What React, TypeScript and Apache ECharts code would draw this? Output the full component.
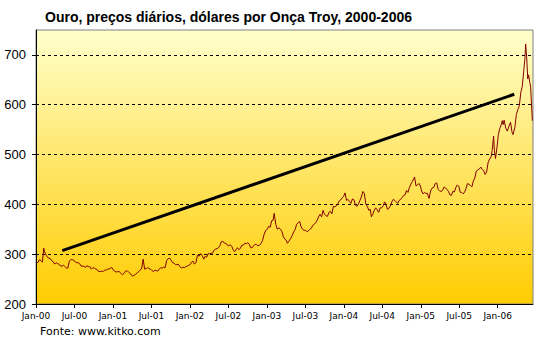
import React, { useEffect, useRef } from "react";
import * as echarts from "echarts";

const TITLE = "Ouro, preços diários, dólares por Onça Troy, 2000-2006";
const SOURCE = "Fonte: www.kitko.com";

const MONTH_NAMES = ["Jan", "Jul"];

const priceDates: string[] = [
  "2000-01-04","2000-01-11","2000-01-18","2000-01-25","2000-02-01","2000-02-07","2000-02-10","2000-02-15","2000-02-22","2000-03-01","2000-03-08","2000-03-15","2000-03-22","2000-03-29","2000-04-05","2000-04-12","2000-04-19","2000-04-26","2000-05-03","2000-05-10","2000-05-17","2000-05-24","2000-05-31","2000-06-07","2000-06-14","2000-06-21","2000-06-28","2000-07-05","2000-07-12","2000-07-19","2000-07-26","2000-08-02","2000-08-09","2000-08-16","2000-08-23","2000-08-30","2000-09-06","2000-09-13","2000-09-20","2000-09-27","2000-10-04","2000-10-11","2000-10-18","2000-10-25","2000-11-01","2000-11-08","2000-11-15","2000-11-22","2000-11-29","2000-12-06","2000-12-13","2000-12-20","2000-12-27",
  "2001-01-03","2001-01-10","2001-01-17","2001-01-24","2001-01-31","2001-02-07","2001-02-14","2001-02-21","2001-02-28","2001-03-07","2001-03-14","2001-03-21","2001-03-28","2001-04-04","2001-04-11","2001-04-18","2001-04-25","2001-05-02","2001-05-09","2001-05-16","2001-05-23","2001-05-30","2001-06-06","2001-06-13","2001-06-20","2001-06-27","2001-07-04","2001-07-11","2001-07-18","2001-07-25","2001-08-01","2001-08-08","2001-08-15","2001-08-22","2001-08-29","2001-09-05","2001-09-12","2001-09-19","2001-09-26","2001-10-03","2001-10-10","2001-10-17","2001-10-24","2001-10-31","2001-11-07","2001-11-14","2001-11-21","2001-11-28","2001-12-05","2001-12-12","2001-12-19","2001-12-27",
  "2002-01-02","2002-01-09","2002-01-16","2002-01-23","2002-01-30","2002-02-06","2002-02-13","2002-02-20","2002-02-27","2002-03-06","2002-03-13","2002-03-20","2002-03-27","2002-04-03","2002-04-10","2002-04-17","2002-04-24","2002-05-01","2002-05-08","2002-05-15","2002-05-22","2002-05-29","2002-06-05","2002-06-12","2002-06-19","2002-06-26","2002-07-03","2002-07-10","2002-07-17","2002-07-24","2002-07-31","2002-08-07","2002-08-14","2002-08-21","2002-08-28","2002-09-04","2002-09-11","2002-09-18","2002-09-25","2002-10-02","2002-10-09","2002-10-16","2002-10-23","2002-10-30","2002-11-06","2002-11-13","2002-11-20","2002-11-27","2002-12-04","2002-12-11","2002-12-18","2002-12-27",
  "2003-01-03","2003-01-10","2003-01-17","2003-01-24","2003-01-31","2003-02-05","2003-02-12","2003-02-19","2003-02-26","2003-03-05","2003-03-12","2003-03-19","2003-03-26","2003-04-02","2003-04-07","2003-04-14","2003-04-23","2003-04-30","2003-05-07","2003-05-14","2003-05-21","2003-05-28","2003-06-04","2003-06-11","2003-06-18","2003-06-25","2003-07-02","2003-07-09","2003-07-16","2003-07-23","2003-07-30","2003-08-06","2003-08-13","2003-08-20","2003-08-27","2003-09-03","2003-09-10","2003-09-17","2003-09-24","2003-10-01","2003-10-08","2003-10-15","2003-10-22","2003-10-29","2003-11-05","2003-11-12","2003-11-19","2003-11-26","2003-12-03","2003-12-10","2003-12-17","2003-12-24","2003-12-31",
  "2004-01-07","2004-01-14","2004-01-21","2004-01-28","2004-02-04","2004-02-11","2004-02-18","2004-02-25","2004-03-03","2004-03-10","2004-03-17","2004-03-24","2004-03-31","2004-04-07","2004-04-14","2004-04-21","2004-04-28","2004-05-05","2004-05-10","2004-05-17","2004-05-24","2004-05-31","2004-06-07","2004-06-14","2004-06-21","2004-06-28","2004-07-05","2004-07-12","2004-07-19","2004-07-26","2004-08-02","2004-08-09","2004-08-16","2004-08-23","2004-08-30","2004-09-06","2004-09-13","2004-09-20","2004-09-27","2004-10-04","2004-10-11","2004-10-18","2004-10-25","2004-11-01","2004-11-08","2004-11-15","2004-11-22","2004-11-29","2004-12-02","2004-12-09","2004-12-16","2004-12-23","2004-12-30",
  "2005-01-05","2005-01-12","2005-01-19","2005-01-26","2005-02-02","2005-02-09","2005-02-16","2005-02-23","2005-03-02","2005-03-09","2005-03-16","2005-03-23","2005-03-30","2005-04-06","2005-04-13","2005-04-20","2005-04-27","2005-05-04","2005-05-11","2005-05-18","2005-05-25","2005-06-01","2005-06-08","2005-06-15","2005-06-22","2005-06-29","2005-07-06","2005-07-13","2005-07-20","2005-07-27","2005-08-03","2005-08-10","2005-08-17","2005-08-24","2005-08-31","2005-09-07","2005-09-14","2005-09-21","2005-09-28","2005-10-05","2005-10-12","2005-10-19","2005-10-26","2005-11-02","2005-11-09","2005-11-16","2005-11-23","2005-11-30","2005-12-05","2005-12-12","2005-12-16","2005-12-21","2005-12-28",
  "2006-01-04","2006-01-11","2006-01-18","2006-01-23","2006-01-27","2006-02-01","2006-02-08","2006-02-15","2006-02-22","2006-03-01","2006-03-08","2006-03-13","2006-03-22","2006-03-29","2006-04-05","2006-04-12","2006-04-19","2006-04-26","2006-05-03","2006-05-08","2006-05-12","2006-05-17","2006-05-22","2006-05-26","2006-06-01","2006-06-05","2006-06-08","2006-06-13"
];

const priceValues: number[] = [
  282,284,289,287,284,312,306,300,295,292,291,287,285,280,283,281,280,276,276,278,275,272,272,286,289,289,288,284,283,283,281,276,276,276,273,277,275,275,270,273,272,270,269,265,265,266,265,268,268,270,270,272,273,
  268,266,264,265,265,262,259,261,266,267,264,262,258,256,258,260,263,265,268,272,290,270,271,273,271,270,267,265,268,267,266,270,273,272,274,273,287,291,292,288,283,282,279,279,280,275,272,274,273,275,276,278,
  279,284,286,280,283,298,296,301,297,290,296,294,301,301,302,302,308,310,311,313,317,325,326,322,322,318,317,319,316,309,305,309,313,309,312,318,318,322,321,323,320,313,313,317,320,319,317,318,322,327,339,348,
  350,356,354,367,368,382,360,350,353,350,345,335,330,328,322,326,332,338,345,350,360,363,366,355,350,348,348,345,347,350,352,358,360,363,368,375,380,375,388,380,377,376,384,386,381,396,395,397,401,407,409,413,416,
  423,408,410,406,402,411,409,398,396,401,408,415,426,422,400,396,388,390,375,380,388,393,389,384,393,393,397,405,400,390,392,397,405,410,408,405,402,408,410,414,418,419,428,424,434,441,446,452,455,437,439,442,437,
  427,421,424,422,422,412,427,433,434,442,443,430,427,426,428,435,433,430,426,419,418,426,425,434,439,436,424,424,421,425,432,442,440,438,435,447,453,467,469,471,475,470,468,460,465,484,491,495,508,537,508,492,513,
  540,552,560,568,560,569,553,547,557,565,545,540,555,580,590,598,625,637,669,690,722,695,652,660,645,635,610,568
];

const trendDates: string[] = ["2000-05-04", "2006-03-19"];
const trendValues: number[] = [307, 621];

const yTicks = { min: 200, max: 750, interval: 100 };

function monthIndex(s: string): number {
  const [y, m, d] = s.split("-").map(Number);
  const dim = new Date(y, m, 0).getDate();
  return (y - 2000) * 12 + (m - 1) + (d - 1) / dim;
}

function monthLabel(v: number): string {
  const y = Math.floor(v / 12);
  const mo = Math.round(v - y * 12);
  const name = MONTH_NAMES[mo === 0 ? 0 : 1];
  return name + "-" + String(y).padStart(2, "0");
}

export default function App() {
  const ref = useRef<HTMLDivElement>(null);
  useEffect(() => {
    document.body.style.margin = "0";
    if (!ref.current) return;
    const chart = echarts.init(ref.current, null, { renderer: "svg" });
    const priceData = priceDates.map((d, i) => [monthIndex(d), priceValues[i]]);
    const trendData = trendDates.map((d, i) => [monthIndex(d), trendValues[i]]);
    chart.setOption({
      animation: false,
      backgroundColor: "#ffffff",
      title: {
        text: TITLE,
        left: 40,
        top: 5,
        textStyle: {
          fontFamily: "Liberation Sans",
          fontSize: 14,
          fontWeight: "bold",
          color: "#000000",
        },
      },
      graphic: [
        {
          type: "text",
          left: 40,
          top: 326,
          style: {
            text: SOURCE,
            fontFamily: "DejaVu Sans",
            fontSize: 11,
            fill: "#000000",
          },
        },
      ],
      grid: {
        left: 36,
        right: 4,
        top: 30,
        bottom: 38,
        show: true,
        borderColor: "#808080",
        borderWidth: 1,
        backgroundColor: {
          type: "linear",
          x: 0,
          y: 0,
          x2: 0,
          y2: 1,
          colorStops: [
            { offset: 0, color: "#FFFFCC" },
            { offset: 1, color: "#FFCC00" },
          ],
        },
      },
      xAxis: {
        type: "value",
        min: 0,
        max: 77.5,
        interval: 6,
        axisLine: { show: true, lineStyle: { color: "#000000", width: 1 } },
        axisTick: { show: true, length: 4, lineStyle: { color: "#000000" } },
        splitLine: { show: false },
        axisLabel: {
          formatter: (v: number) => monthLabel(v),
          showMaxLabel: false,
          fontFamily: "DejaVu Sans",
          fontSize: 9,
          color: "#000000",
          margin: 7,
        },
      },
      yAxis: {
        type: "value",
        min: yTicks.min,
        max: yTicks.max,
        interval: yTicks.interval,
        axisLine: { show: true, lineStyle: { color: "#000000", width: 1 } },
        axisTick: { show: true, length: 4, lineStyle: { color: "#000000" } },
        splitLine: {
          show: true,
          showMinLine: false,
          showMaxLine: false,
          lineStyle: { color: "#000000", type: [3, 3], width: 1 },
        },
        axisLabel: {
          showMaxLabel: false,
          fontFamily: "Liberation Sans",
          fontSize: 13,
          color: "#000000",
          margin: 10,
        },
      },
      series: [
        {
          type: "line",
          data: priceData,
          symbol: "none",
          lineStyle: { color: "#800000", width: 1 },
          z: 2,
        },
        {
          type: "line",
          data: trendData,
          symbol: "none",
          lineStyle: { color: "#000000", width: 3 },
          z: 3,
        },
      ],
    });
    return () => chart.dispose();
  }, []);
  return <div ref={ref} style={{ width: 537, height: 342 }} />;
}
